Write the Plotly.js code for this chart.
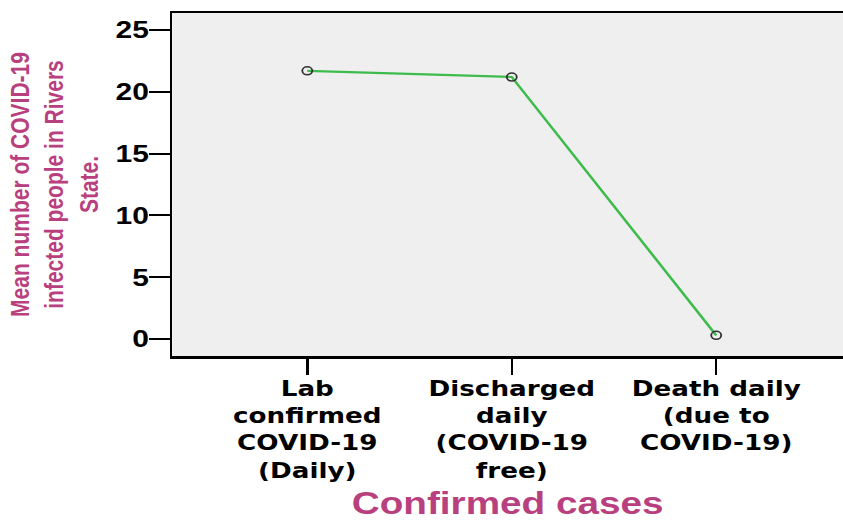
<!DOCTYPE html>
<html>
<head>
<meta charset="utf-8">
<script src="https://cdn.plot.ly/plotly-3.0.1.min.js"></script>
<style>
  html, body { margin: 0; padding: 0; background: #ffffff; overflow: hidden; }
  #chart { width: 675px; height: 521px; transform: scaleX(1.2489); transform-origin: 0 0; }
</style>
</head>
<body>
<div id="chart"></div>
<script>
// Data
const categories = [
  'Lab<br>confirmed<br>COVID-19<br>(Daily)',
  'Discharged<br>daily<br>(COVID-19<br>free)',
  'Death daily<br>(due to<br>COVID-19)'
];
const meanValues = [21.7, 21.2, 0.3];
const yTickValues = [0, 5, 10, 15, 20, 25];
const yTitle = 'Mean number of COVID-19<br>infected people in Rivers<br>State.';
const xTitle = 'Confirmed cases';

const trace = {
  type: 'scatter',
  mode: 'lines+markers',
  x: categories,
  y: meanValues,
  line: { color: '#3dbb4c', width: 2.2 },
  marker: { symbol: 'circle-open', size: 8, color: '#333333', line: { width: 1.5, color: '#333333' } },
  hoverinfo: 'x+y'
};

const layout = {
  width: 675,
  height: 521,
  margin: { l: 138, r: 0, t: 13, b: 165 },
  paper_bgcolor: '#ffffff',
  plot_bgcolor: '#efefef',
  showlegend: false,
  xaxis: {
    type: 'category',
    range: [-0.66, 2.62],
    showgrid: false,
    zeroline: false,
    showline: true,
    linecolor: '#000000',
    linewidth: 2.5,
    mirror: true,
    ticks: 'outside',
    ticklen: 16,
    tickwidth: 2,
    tickcolor: '#000000',
    ticklabelstandoff: -4,
    tickfont: { family: 'DejaVu Sans', size: 21, color: '#000000', weight: 'bold' },
    automargin: false,
    title: { text: xTitle, font: { family: 'Liberation Sans', size: 31, color: '#b9407e', weight: 'bold' }, standoff: 22 }
  },
  yaxis: {
    range: [-1.375, 26.38],
    tickvals: yTickValues,
    showgrid: false,
    zeroline: false,
    showline: true,
    linecolor: '#000000',
    linewidth: 2,
    mirror: false,
    ticks: 'outside',
    ticklen: 17,
    tickwidth: 2,
    tickcolor: '#000000',
    ticklabelstandoff: -5,
    tickfont: { family: 'Liberation Sans', size: 24, color: '#000000', weight: 'bold' },
    automargin: false,
    title: { text: yTitle, font: { family: 'Liberation Sans', size: 21, color: '#b9407e', weight: 'bold' }, standoff: 8 }
  }
};

Plotly.newPlot('chart', [trace], layout, { displayModeBar: false, staticPlot: true });
</script>
</body>
</html>
